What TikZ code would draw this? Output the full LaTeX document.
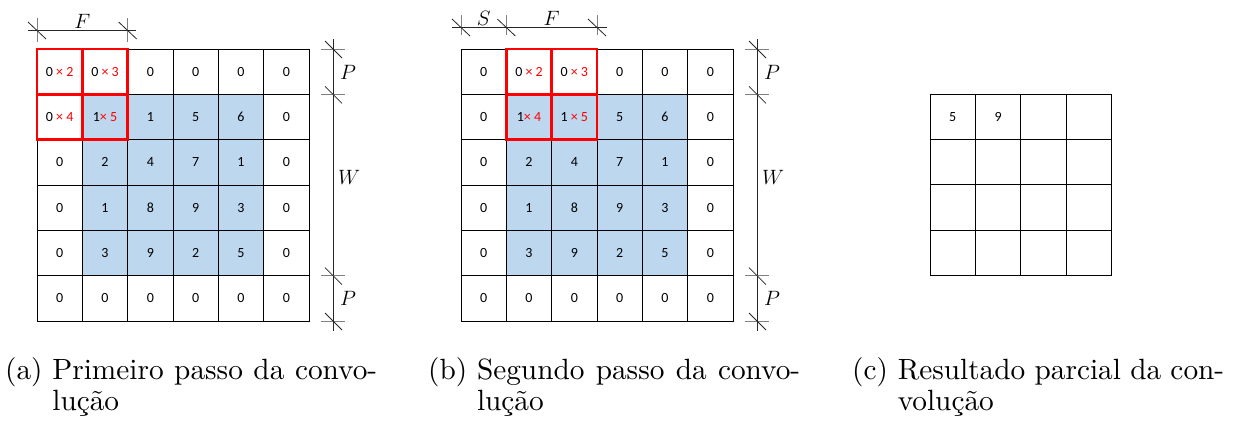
\documentclass[tikz,border=0pt]{standalone}
\usepackage{fontspec}
\usetikzlibrary{calc}
\newfontfamily\cellfont{Carlito}
\newfontfamily\capfont{lmroman10-regular.otf}
\definecolor{cellblue}{HTML}{BDD7EE}
\newcommand{\mulx}[2]{#1 \textcolor{red}{× #2}}
\newcommand{\mulz}[2]{#1\textcolor{red}{× #2}}
\newcommand{\capline}[2]{\setbox0\hbox{#1\ }\copy0\makebox[\dimexpr372pt-\wd0\relax][s]{#2}}
\begin{document}
\begin{tikzpicture}[x=1pt,y=-1pt,
  cell/.style={draw=black, line width=0.8pt, minimum size=45.33pt, inner sep=0pt, outer sep=0pt,
    font=\cellfont\fontsize{14}{16}\selectfont},
  redbox/.style={draw=red, line width=2.6pt},
  dimline/.style={draw=black!85, line width=0.8pt},
  tickline/.style={draw=black!50, line width=0.9pt},
  dimlabel/.style={font=\fontsize{20}{20}\selectfont, inner sep=0pt},
  captxt/.style={font=\capfont\fontsize{29.3}{34}\selectfont, inner sep=0pt, anchor=base west}]
\useasboundingbox (0,0) rectangle (1235,421);

% ---------- grid (a)
\foreach \v [count=\i from 0] in {
  {\mulx02},{\mulx03},0,0,0,0,
  {\mulx04},{\mulz15},1,5,6,0,
  0,2,4,7,1,0,
  0,1,8,9,3,0,
  0,3,9,2,5,0,
  0,0,0,0,0,0}{
  \pgfmathtruncatemacro\r{div(\i,6)}
  \pgfmathtruncatemacro\c{mod(\i,6)}
  \pgfmathtruncatemacro\inner{and(and(\r>0,\r<5),and(\c>0,\c<5))}
  \ifnum\inner=1 \def\fc{cellblue}\else\def\fc{white}\fi
  \node[cell, fill=\fc] (a-\r-\c) at ({37+45.333*(\c+0.5)},{49+45.333*(\r+0.5)}) {\v};
}
\foreach \r/\c in {0/0,0/1,1/0,1/1}
  \draw[redbox] (a-\r-\c.north west) rectangle (a-\r-\c.south east);

% ---------- grid (b)
\foreach \v [count=\i from 0] in {
  0,{\mulx02},{\mulx03},0,0,0,
  0,{\mulz14},{\mulx15},5,6,0,
  0,2,4,7,1,0,
  0,1,8,9,3,0,
  0,3,9,2,5,0,
  0,0,0,0,0,0}{
  \pgfmathtruncatemacro\r{div(\i,6)}
  \pgfmathtruncatemacro\c{mod(\i,6)}
  \pgfmathtruncatemacro\inner{and(and(\r>0,\r<5),and(\c>0,\c<5))}
  \ifnum\inner=1 \def\fc{cellblue}\else\def\fc{white}\fi
  \node[cell, fill=\fc] (b-\r-\c) at ({461+45.333*(\c+0.5)},{49+45.333*(\r+0.5)}) {\v};
}
\foreach \r/\c in {0/1,0/2,1/1,1/2}
  \draw[redbox] (b-\r-\c.north west) rectangle (b-\r-\c.south east);

% ---------- grid (c)
\foreach \v [count=\i from 0] in {5,9,{},{},{},{},{},{},{},{},{},{},{},{},{},{}}{
  \pgfmathtruncatemacro\r{div(\i,4)}
  \pgfmathtruncatemacro\c{mod(\i,4)}
  \node[cell] (c-\r-\c) at ({930+45.4*(\c+0.5)},{94+45.4*(\r+0.5)}) {\v};
}

% ---------- dimension marks
% horizontal marks (a)
\coordinate (aF1) at (a-0-0.north west |- 0,30);
\coordinate (aF2) at (a-0-2.north west |- 0,30);
\draw[dimline] ($(aF1)+(-9,0)$) -- ($(aF2)+(8,0)$);
\foreach \p in {aF1,aF2}{
  \draw[tickline] ($(\p)+(0,-12)$) -- ($(\p)+(0,12)$);
  \draw[dimline] ($(\p)+(-9,-8)$) -- ($(\p)+(9,9)$);
}
\node[dimlabel] (aFl) at ($(aF1)!0.5!(aF2)+(0,-9)$) {$F$};

% vertical marks (a)
\coordinate (aV1) at (333,0 |- a-0-0.north west);
\coordinate (aV2) at (333,0 |- a-1-0.north west);
\coordinate (aV3) at (333,0 |- a-5-0.north west);
\coordinate (aV4) at (333,0 |- a-5-0.south west);
\draw[dimline] ($(aV1)+(0,-10)$) -- ($(aV4)+(0,10)$);
\foreach \p in {aV1,aV2,aV3,aV4}{
  \draw[tickline] ($(\p)+(-12,0)$) -- ($(\p)+(12,0)$);
  \draw[dimline] ($(\p)+(-8,-8)$) -- ($(\p)+(9,9)$);
}
\node[dimlabel] (aP1) at (348,72) {$P$};
\node[dimlabel] (aW) at (349,177) {$W$};
\node[dimlabel] (aP2) at (348,298) {$P$};

% horizontal marks (b)
\coordinate (bS1) at (b-0-0.north west |- 0,27);
\coordinate (bS2) at (b-0-1.north west |- 0,27);
\coordinate (bS3) at (b-0-3.north west |- 0,27);
\draw[dimline] ($(bS1)+(-9,0)$) -- ($(bS3)+(10,0)$);
\foreach \p in {bS1,bS2,bS3}{
  \draw[tickline] ($(\p)+(0,-12)$) -- ($(\p)+(0,8)$);
  \draw[dimline] ($(\p)+(-9,-8)$) -- ($(\p)+(9,9)$);
}
\node[dimlabel] (bSl) at ($(bS1)!0.5!(bS2)+(0,-9)$) {$S$};
\node[dimlabel] (bFl) at ($(bS2)!0.5!(bS3)+(0,-9)$) {$F$};

% vertical marks (b)
\coordinate (bV1) at (757,0 |- b-0-0.north west);
\coordinate (bV2) at (757,0 |- b-1-0.north west);
\coordinate (bV3) at (757,0 |- b-5-0.north west);
\coordinate (bV4) at (757,0 |- b-5-0.south west);
\draw[dimline] ($(bV1)+(0,-10)$) -- ($(bV4)+(0,10)$);
\foreach \p in {bV1,bV2,bV3,bV4}{
  \draw[tickline] ($(\p)+(-12,0)$) -- ($(\p)+(12,0)$);
  \draw[dimline] ($(\p)+(-8,-8)$) -- ($(\p)+(9,9)$);
}
\node[dimlabel] (bP1) at (772,72) {$P$};
\node[dimlabel] (bW) at (773,177) {$W$};
\node[dimlabel] (bP2) at (772,298) {$P$};

% ---------- captions
\node[captxt] (capa1) at (5,379) {\capline{(a)}{Primeiro passo da convo-}};
\node[captxt] (capa2) at (5,410) {\hphantom{(a)\ }lução};
\node[captxt] (capb1) at (428,379) {\capline{(b)}{Segundo passo da convo-}};
\node[captxt] (capb2) at (428,410) {\hphantom{(b)\ }lução};
\node[captxt] (capc1) at (852,379) {\capline{(c)}{Resultado parcial da con-}};
\node[captxt] (capc2) at (852,410) {\hphantom{(c)\ }volução};
\end{tikzpicture}
\end{document}
